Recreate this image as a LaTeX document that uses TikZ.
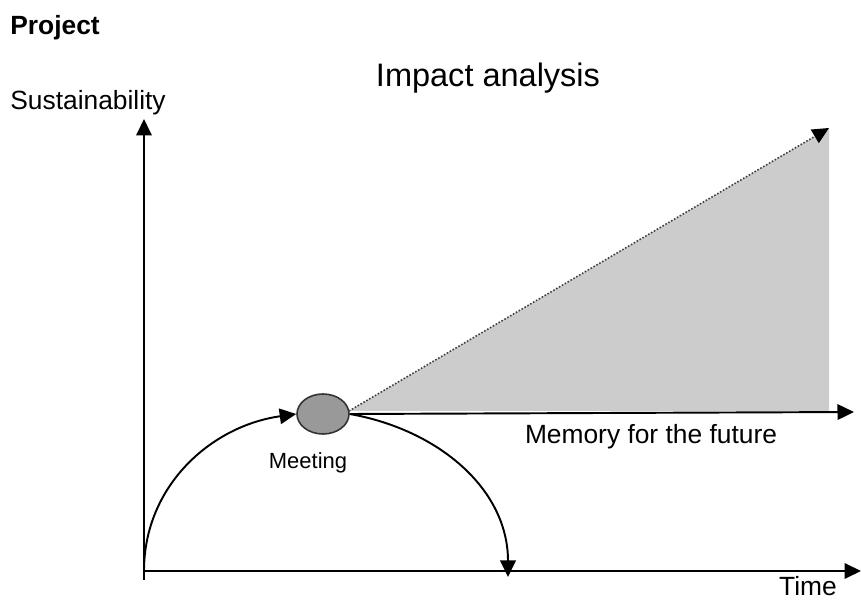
\documentclass[tikz,border=0pt]{standalone}
\usepackage{fontspec}
\setmainfont{Liberation Sans}
\usetikzlibrary{arrows.meta,positioning,calc,shapes.geometric}
\tikzset{
  axis/.style={-{Triangle[length=3.3mm, width=3.1mm]}, line width=1.1pt},
  flow/.style={-{Triangle[length=3.3mm, width=3.1mm]}, line width=1.1pt},
  trend/.style={-{Triangle[length=3.3mm, width=3.1mm, color=black]}, densely dotted, line width=0.9pt, draw=black!75},
  meetnode/.style={ellipse, draw=black!80, line width=0.9pt, fill=black!40,
    minimum width=10.4mm, minimum height=8mm, inner sep=0pt},
  lbl/.style={font=\fontsize{15}{18}\selectfont, inner sep=0pt},
}

\begin{document}
\begin{tikzpicture}

  \useasboundingbox (0,0) rectangle (17.22,12);

  % axes
  \coordinate (o) at (2.88, 0.58);
  \coordinate (ybot) at (2.88, 0.40);
  \coordinate (ytop) at (2.88, 9.62);
  \coordinate (xend) at (17.22, 0.58);
  \draw[axis] (ybot) -- (ytop);
  \draw[axis] (o) -- (xend);

  \node[lbl, font=\fontsize{15}{18}\selectfont\bfseries, anchor=west] (proj) at (0.2, 11.44) {Project};
  \node[lbl, font=\fontsize{18.5}{22}\selectfont] (title) at (9.76, 10.44) {Impact analysis};
  \node[lbl, anchor=west] (ylab) at (0.2, 9.94) {Sustainability};
  \node[lbl] (xlab) at (16.16, 0.27) {Time};

  % meeting
  \node[meetnode] (meet) at (6.46, 3.72) {};
  \node[lbl, font=\fontsize{12.5}{15}\selectfont] (meetlab) at (6.16, 2.74) {Meeting};

  \coordinate (apex) at (6.98, 3.78);
  \coordinate (top) at (16.58, 9.44);
  \coordinate (corner) at (16.58, 3.78);
  \coordinate (mend) at (17.08, 3.76);
  \coordinate (drop) at (10.16, 0.46);

  \fill[black!20] (apex) -- (top) -- (corner) -- cycle;
  \draw[trend] (apex) -- (top);
  \draw[flow] (meet.east) -- (mend);
  \node[lbl] (memlab) at (13.02, 3.26) {Memory for the future};

  \draw[flow] (o) to[out=90, in=188] (meet.west);
  \draw[flow] (meet.east) to[out=-10, in=90] (drop);

\end{tikzpicture}
\end{document}
